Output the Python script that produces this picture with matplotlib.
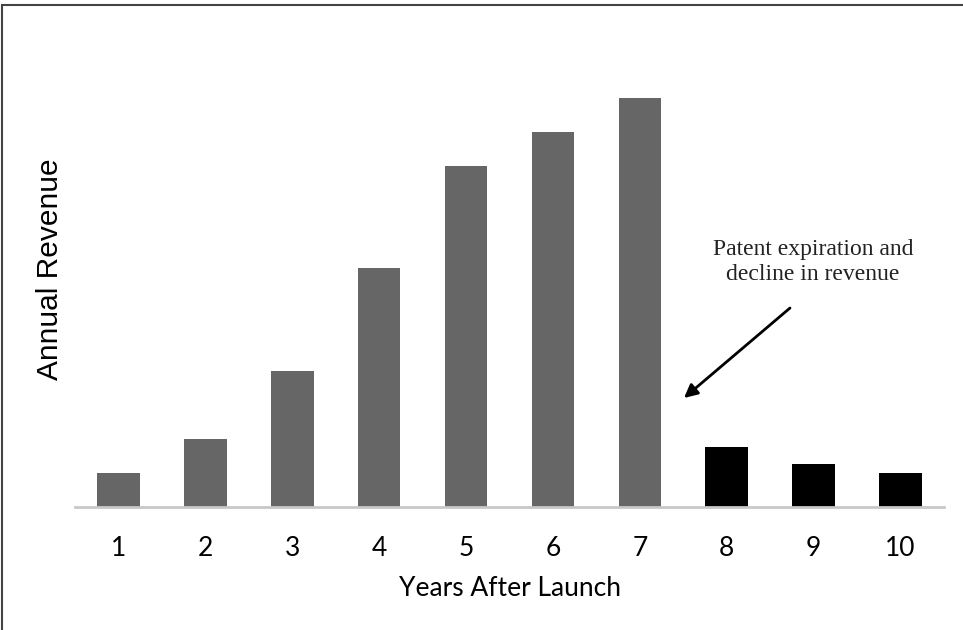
import matplotlib
matplotlib.use("Agg")
import matplotlib.pyplot as plt
from matplotlib.patches import Rectangle

years = [1, 2, 3, 4, 5, 6, 7, 8, 9, 10]
tick_labels = ["1", "2", "3", "4", "5", "6", "7", "8", "9", "10"]
revenue = [1.0, 2.0, 4.0, 7.0, 10.0, 11.0, 12.0, 1.75, 1.25, 1.0]
bar_colors = ["#666666"] * 7 + ["#000000"] * 3

narrow = "Lato"

W, H = 963, 630
fig = plt.figure(figsize=(W / 100, H / 100), dpi=100)
left, right, bottom, top = 75, 944, 507, 80
ax = fig.add_axes([left / W, 1 - bottom / H, (right - left) / W, (bottom - top) / H])

ax.bar(years, revenue, width=0.49, color=bar_colors, zorder=2)
ax.set_xlim(0.5, 10.5)
ax.set_ylim(0, 12 * (bottom - top) / 409)
for s in ["top", "right", "left"]:
    ax.spines[s].set_visible(False)
ax.spines["bottom"].set_color("#c8c8c8")
ax.spines["bottom"].set_linewidth(2)
ax.set_yticks([])
ax.set_xticks(years)
ax.set_xticklabels(tick_labels, fontfamily=narrow, fontsize=19)
ax.tick_params(axis="x", length=0, pad=21)

fig.text(510 / W, 1 - 589 / H, "Years After Launch", ha="center", va="center",
         fontfamily=narrow, fontsize=19)
fig.text(50 / W, 1 - 269 / H, "Annual Revenue", ha="center", va="center",
         rotation=90, fontfamily="Liberation Sans", fontsize=21.5)

ax.annotate("",
            xy=(684, H - 398), xycoords="figure pixels",
            xytext=(790, H - 308), textcoords="figure pixels",
            arrowprops=dict(arrowstyle="-|>", color="black", lw=2, mutation_scale=20,
                            shrinkA=0, shrinkB=0))
fig.text(813 / W, 1 - 262 / H, "Patent expiration and\ndecline in revenue",
         ha="center", va="center", fontfamily="Liberation Serif", fontsize=17,
         linespacing=1.25, color="#222222")

fig.add_artist(Rectangle((2 / W, -0.01), 1.0, 1 - 5 / H + 0.01, transform=fig.transFigure,
                         fill=False, edgecolor="#444444", lw=1.5))

fig.savefig("out.png", dpi=100)
